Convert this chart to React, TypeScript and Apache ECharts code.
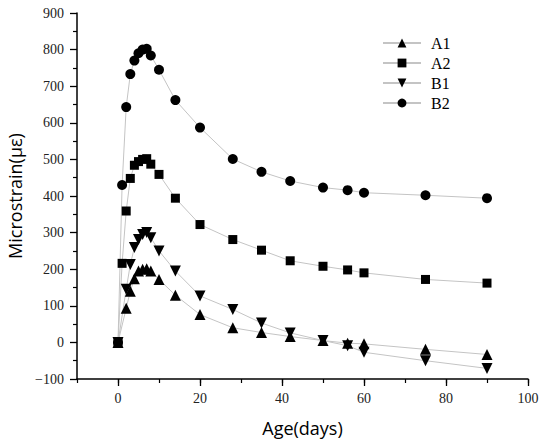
import React, { useEffect, useRef } from "react";
import * as echarts from "echarts";

const daysA2B2 = [0, 1, 2, 3, 4, 5, 6, 7, 8, 10, 14, 20, 28, 35, 42, 50, 56, 60, 75, 90];
const valuesB2 = [0, 430, 643, 733, 770, 790, 800, 802, 784, 745, 662, 587, 501, 466, 441, 423, 416, 409, 402, 394];
const valuesA2 = [0, 216, 359, 448, 484, 494, 500, 502, 487, 459, 394, 322, 281, 252, 223, 208, 198, 190, 172, 162];

const daysA1B1 = [0, 2, 3, 4, 5, 6, 7, 8, 10, 14, 20, 28, 35, 42, 50, 56, 60, 75, 90];
const valuesA1 = [0, 93, 140, 174, 195, 200, 201, 195, 172, 129, 76, 40, 27, 16, 5, -2, -4, -19, -33];
const valuesB1 = [0, 145, 213, 259, 281, 295, 300, 286, 250, 195, 127, 90, 53, 26, 5, -9, -27, -50, -71];

const xMajorTicks = [0, 20, 40, 60, 80, 100];

const seriesNames = ["A1", "A2", "B1", "B2"];

const pair = (days: number[], vals: number[]) => days.map((d, i) => [d, vals[i]]);

const LINE_COLOR = "#c4c4c4";
const SERIF = "Liberation Serif";
const SANS = "Open Sans";

export default function App() {
  const ref = useRef<HTMLDivElement>(null);
  useEffect(() => {
    if (!ref.current) return;
    const chart = echarts.init(ref.current, undefined, { renderer: "svg" });
    const mkSeries = (name: string, data: number[][], symbol: string, size: number, rotate = 0) => ({
      name,
      type: "line",
      data,
      symbol,
      symbolSize: size,
      symbolRotate: rotate,
      showAllSymbol: true,
      itemStyle: { color: "#000" },
      lineStyle: { color: LINE_COLOR, width: 1 },
      emphasis: { disabled: true },
    });
    chart.setOption({
      animation: false,
      backgroundColor: "#fff",
      grid: { left: 77, right: 22, top: 13, bottom: 66, containLabel: false, outerBoundsMode: "none" },
      legend: {
        data: seriesNames,
        orient: "vertical",
        left: 382,
        top: 35,
        padding: 0,
        itemWidth: 38,
        itemHeight: 11,
        itemGap: 4,
        textStyle: { fontFamily: SERIF, fontSize: 16, color: "#000", padding: [0, 0, 0, 5] },
      },
      xAxis: [
        {
          type: "value",
          min: -10,
          max: 100,
          interval: 10,
          position: "bottom",
          splitLine: { show: false },
          axisLine: { show: false, onZero: false },
          axisTick: { show: true, inside: false, length: 4, lineStyle: { color: "#000", width: 1.2 } },
          axisLabel: { show: false },
        },
        {
          type: "value",
          min: -10,
          max: 100,
          position: "bottom",
          offset: 0,
          name: "Age(days)",
          nameLocation: "middle",
          nameGap: 40,
          nameTextStyle: { fontFamily: SANS, fontSize: 18, color: "#000" },
          splitLine: { show: false },
          axisLine: { show: true, onZero: false, lineStyle: { color: "#000", width: 1.5 } },
          axisTick: { show: true, inside: false, length: 7, customValues: xMajorTicks, lineStyle: { color: "#000", width: 1.3 } },
          axisLabel: {
            customValues: xMajorTicks,
            margin: 12,
            fontFamily: SERIF,
            fontSize: 14,
            color: "#222",
          },
        },
      ],
      yAxis: {
        type: "value",
        min: -100,
        max: 900,
        interval: 100,
        name: "Microstrain(με)",
        nameLocation: "middle",
        nameGap: 52,
        nameTextStyle: { fontFamily: SANS, fontSize: 18, color: "#000" },
        splitLine: { show: false },
        axisLine: { show: true, onZero: false, lineStyle: { color: "#000", width: 1.5 } },
        axisTick: { show: true, inside: false, length: 7, lineStyle: { color: "#000", width: 1.3 } },
        minorTick: { show: true, splitNumber: 2, length: 4, lineStyle: { color: "#000", width: 1.2 } },
        axisLabel: {
          margin: 13,
          fontFamily: SERIF,
          fontSize: 14,
          color: "#222",
          formatter: (v: number) => String(v).replace("-", "\u2212"),
        },
      },
      series: [
        mkSeries("A1", pair(daysA1B1, valuesA1), "triangle", 11),
        mkSeries("A2", pair(daysA2B2, valuesA2), "rect", 9),
        mkSeries("B1", pair(daysA1B1, valuesB1), "triangle", 11, 180),
        mkSeries("B2", pair(daysA2B2, valuesB2), "circle", 10),
      ],
    });
    return () => chart.dispose();
  }, []);
  return (
    <div
      ref={ref}
      style={{ position: "absolute", left: 0, top: 0, width: 550, height: 445, background: "#fff" }}
    />
  );
}
